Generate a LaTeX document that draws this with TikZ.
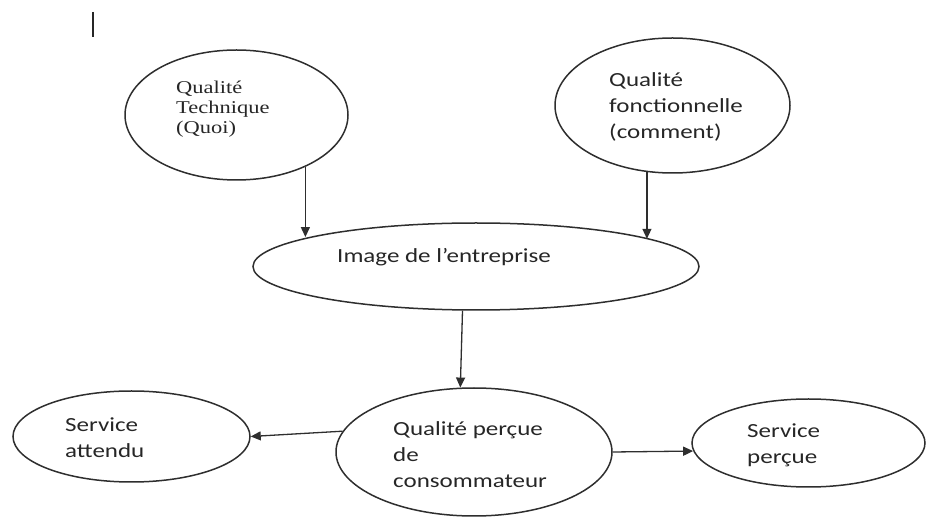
\documentclass[tikz,border=0pt]{standalone}
\usepackage{fontspec}
\usepackage{xcolor}
\usetikzlibrary{arrows.meta,shapes.geometric}
\newfontfamily\calibrifont[FakeStretch=1.25]{Carlito}
\newfontfamily\timesfont[FakeStretch=1.25]{Liberation Serif}
\definecolor{Ink}{HTML}{262626}
\definecolor{Edge}{HTML}{2E2E2E}
\tikzset{
  bubble/.style={draw=Edge,ellipse,line width=1.5pt,inner sep=0pt},
  txt/.style={anchor=west,align=left,inner sep=0pt,text=Ink,font=\calibrifont\fontsize{20}{26}\selectfont},
  serif txt/.style={txt,font=\timesfont\fontsize{18}{20}\selectfont},
  arr/.style={-{Triangle[length=10pt,width=9pt]},draw=Edge,line width=1.3pt}
}
\begin{document}
\begin{tikzpicture}[x=1pt,y=-1pt]
  \useasboundingbox (0,0) rectangle (927,518);
  % curseur
  \coordinate (bar-top) at (93,12);
  \coordinate (bar-bot) at (93,37);
  \draw[line width=2pt,Ink] (bar-top) -- (bar-bot);
  % ellipses
  \node[bubble,minimum width=223,minimum height=130] (qt) at (236.5,115) {};
  \node[bubble,minimum width=235,minimum height=135] (qf) at (672.5,105.5) {};
  \node[bubble,minimum width=446,minimum height=87] (img) at (476,266.5) {};
  \node[bubble,minimum width=276,minimum height=128] (qpc) at (474,452) {};
  \node[bubble,minimum width=237,minimum height=91] (sa) at (131.5,436.5) {};
  \node[bubble,minimum width=233,minimum height=88] (sp) at (808.5,443) {};
  % textes
  \node[serif txt] (qt-txt) at (176,109) {Qualité\\Technique\\(Quoi)};
  \node[txt] (qf-txt) at (609,106.5) {Qualité\\fonctionnelle\\(comment)};
  \node[txt] (img-txt) at (337,257) {Image de l’entreprise};
  \node[txt] (qpc-txt) at (393,455) {Qualité perçue\\de\\consommateur};
  \node[txt] (sa-txt) at (65,437.5) {Service\\attendu};
  \node[txt] (sp-txt) at (747,445.5) {Service\\perçue};
  % fleches
  \draw[arr] (qt.-37.6) -- (qt.-37.6 |- img.170.9);
  \draw[arr] (qf.249.9) -- (qf.249.9 |- img.9.4);
  \draw[arr] (img.253.4) -- (qpc.102.3);
  \draw[arr] (qpc.171.8) -- (sa.east);
  \draw[arr] (qpc.east) -- (sp.184.5);
\end{tikzpicture}
\end{document}
